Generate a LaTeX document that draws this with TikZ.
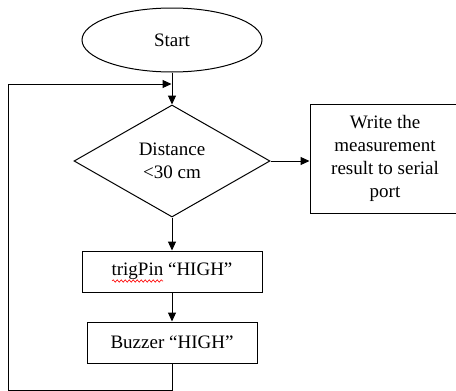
\documentclass[tikz,border=0pt]{standalone}
\usepackage{fontspec}
\setmainfont{Liberation Serif}
\usetikzlibrary{shapes.geometric,arrows.meta,decorations.pathmorphing}
\begin{document}
\begin{tikzpicture}[x=1pt,y=-1pt,
  box/.style={font=\fontsize{19}{23}\selectfont, draw, line width=1pt, inner sep=0pt, align=center},
  arr/.style={line width=1pt,-{Triangle[length=9pt,width=8pt]}},
  ln/.style={line width=1pt}]
\useasboundingbox (0,0) rectangle (456,391);
\node[box, ellipse, minimum width=180pt, minimum height=64pt] (start) at (172,40) {Start};
\node[box, diamond, minimum width=196pt, minimum height=112pt] (dec) at (172,161) {Distance\\<30 cm};
\node[box, rectangle, minimum width=150pt, minimum height=109pt] (write) at (385,158.5) {Write the\\measurement\\result to serial\\port};
\node[box, rectangle, minimum width=180pt, minimum height=41pt] (trig) at (172,271.5) {trigPin “HIGH”};
\node[box, rectangle, minimum width=170pt, minimum height=41pt] (buzz) at (172,342.5) {Buzzer “HIGH”};
\coordinate (bot) at (172,390);
\coordinate (lb) at (8,390);
\coordinate (lt) at (8,84);
\coordinate (in) at (171.5,84);
\draw[arr] (start.south) -- (dec.north);
\draw[arr] (dec.east) -- (dec.east -| write.west);
\draw[arr] (dec.south) -- (trig.north);
\draw[arr] (trig.south) -- (buzz.north);
\draw[ln] (buzz.south) -- (bot) -- (lb) -- (lt);
\draw[arr] (lt) -- (in);
\coordinate (sq1) at (112,281);
\coordinate (sq2) at (163,281);
\draw[red, line width=0.6pt, decorate, decoration={snake, amplitude=1.2pt, segment length=4pt}] (sq1) -- (sq2);
\end{tikzpicture}
\end{document}
